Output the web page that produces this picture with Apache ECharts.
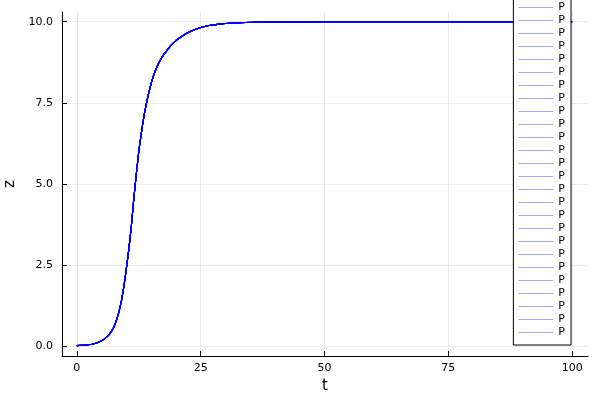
<!DOCTYPE html>
<html>
<head>
<meta charset="utf-8">
<script src="https://cdn.jsdelivr.net/npm/echarts@6/dist/echarts.min.js"></script>
<style>html,body{margin:0;padding:0;background:#fff;}#c{width:600px;height:400px;}</style>
</head>
<body>
<div id="c"></div>
<script>
// time points (t) and trajectory values (z)
const tValues = [0,1,2,3,4,5,5.5,6,6.5,7,7.5,8,8.5,9,9.5,10,10.5,11,11.5,12,12.5,13,13.5,14,14.5,15,15.5,16,16.5,17,17.5,18,19,20,21,22,23,24,25,26,27,28,29,30,32,34,36,40,45,50,60,70,80,90,100];
const zValues = [0.02,0.03,0.04,0.06,0.10,0.17,0.22,0.28,0.36,0.46,0.60,0.80,1.06,1.40,1.85,2.40,3.00,3.70,4.55,5.30,6.00,6.55,7.05,7.45,7.80,8.10,8.35,8.55,8.72,8.86,8.98,9.08,9.27,9.42,9.53,9.63,9.71,9.77,9.82,9.86,9.89,9.91,9.93,9.945,9.96,9.975,9.985,9.993,9.997,10,10,10,10,10,10];
const seriesCount = 30;
const legendLabel = 'P';
const xTicks = [0,25,50,75,100];
const yTicks = [0,2.5,5,7.5,10];

const seriesNames = [];
for (let i = 0; i < seriesCount; i++) seriesNames.push(legendLabel + '_' + (i + 1));
const points = tValues.map((t, i) => [t, zValues[i]]);

const font = 'DejaVu Sans';
const chart = echarts.init(document.getElementById('c'), null, {renderer: 'canvas'});
chart.setOption({
  animation: false,
  backgroundColor: '#fff',
  grid: {left: 62, right: 12, top: 12, bottom: 44, containLabel: false, outerBoundsMode: 'none'},
  xAxis: {
    type: 'value', min: -3, max: 103.2,
    name: 't', nameLocation: 'middle', nameGap: 22,
    nameTextStyle: {fontFamily: font, fontSize: 15, color: '#000'},
    axisLine: {show: true, onZero: false, lineStyle: {color: '#000', width: 1}},
    axisTick: {show: true, inside: true, length: 5, customValues: xTicks, lineStyle: {color: '#000'}},
    axisLabel: {customValues: xTicks, fontFamily: font, fontSize: 11, color: '#000', margin: 7},
    splitLine: {show: true, lineStyle: {color: 'rgba(0,0,0,0.08)', width: 1}}
  },
  yAxis: {
    type: 'value', min: -0.3, max: 10.3,
    name: 'z', nameLocation: 'middle', nameGap: 36,
    nameTextStyle: {fontFamily: font, fontSize: 15, color: '#000'},
    axisLine: {show: true, onZero: false, lineStyle: {color: '#000', width: 1}},
    axisTick: {show: true, inside: true, length: 5, customValues: yTicks, lineStyle: {color: '#000'}},
    axisLabel: {customValues: yTicks, fontFamily: font, fontSize: 11, color: '#000', margin: 9,
      formatter: v => Number(v).toFixed(1)},
    splitLine: {show: true, lineStyle: {color: 'rgba(0,0,0,0.08)', width: 1}}
  },
  legend: {
    orient: 'vertical', type: 'plain',
    right: 29, top: -57, height: 1000,
    data: seriesNames,
    formatter: () => legendLabel,
    icon: 'rect', itemWidth: 35, itemHeight: 1, itemGap: 0,
    itemStyle: {color: '#a8a8ff'},
    padding: [6, 6, 6, 5],
    backgroundColor: '#fff', borderColor: '#000', borderWidth: 1, borderRadius: 0,
    textStyle: {fontFamily: font, fontSize: 11, color: '#000', lineHeight: 13, padding: [0,0,0,0]}
  },
  series: seriesNames.map(n => ({
    name: n, type: 'line', data: points,
    showSymbol: false, symbol: 'none',
    smooth: false,
    color: 'rgba(0,0,255,0.33)',
    lineStyle: {width: 1.1, color: 'rgba(0,0,255,0.33)'},
    emphasis: {disabled: true}
  }))
});
</script>
</body>
</html>
